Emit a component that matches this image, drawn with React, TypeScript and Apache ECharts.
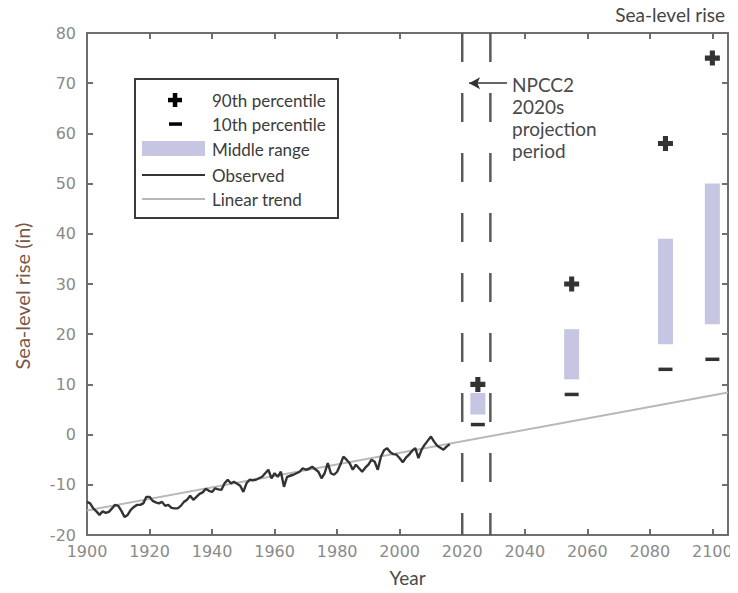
import React, { useEffect, useRef } from "react";
import * as echarts from "echarts";

// Observed annual sea level (inches), one value per year from 1900
const observedStartYear = 1900;
const observedValues = [
  -13.4, -13.7, -14.7, -15.3, -16.0, -15.3, -15.6, -15.4, -14.7, -14.0,
  -14.2, -15.2, -16.4, -16.0, -15.0, -14.4, -14.0, -14.0, -13.7, -12.4,
  -12.4, -13.2, -13.5, -13.7, -13.4, -14.2, -14.0, -14.6, -14.7, -14.7,
  -14.2, -13.4, -13.0, -12.2, -13.0, -12.4, -11.8, -11.5, -10.8, -11.2,
  -11.4, -10.7, -10.9, -11.0, -9.7, -9.0, -9.7, -9.4, -9.8, -10.2,
  -11.4, -9.7, -9.0, -9.1, -9.0, -8.7, -8.4, -7.7, -7.0, -8.7,
  -7.7, -8.4, -7.4, -10.4, -8.4, -8.2, -8.0, -7.7, -7.4, -6.7,
  -7.0, -6.8, -6.4, -6.9, -7.4, -8.7, -7.7, -5.7, -7.7, -8.0,
  -7.4, -6.0, -4.4, -5.0, -5.7, -7.0, -6.0, -6.7, -7.4, -6.6,
  -6.0, -5.0, -5.4, -7.0, -4.4, -3.1, -2.7, -3.5, -3.9, -4.0,
  -4.7, -5.5, -4.6, -4.0, -3.2, -2.7, -4.7, -3.0, -2.0, -1.2,
  -0.4, -1.4, -2.2, -2.6, -3.0, -2.4, -1.9,
];

// Linear trend end points [year, inches]
const trendYears = [1900, 2105];
const trendValues = [-15.1, 8.4];

// Projection decades (mid-points) and their percentile values
const projectionYears = [2025, 2055, 2085, 2100];
const pct90 = [10, 30, 58, 75];
const pct10 = [2, 8, 13, 15];
const middleLow = [4, 11, 18, 22];
const middleHigh = [8.3, 21, 39, 50];

// NPCC2 2020s projection period bounds
const periodYears = [2020, 2029];

// Axis ticks
const xTicks = [1900, 1920, 1940, 1960, 1980, 2000, 2020, 2040, 2060, 2080, 2100];
const yTicks = [-20, -10, 0, 10, 20, 30, 40, 50, 60, 70, 80];

const annotationLines = ["NPCC2", "2020s", "projection", "period"];

const AXIS_COLOR = "#6e6e6e";
const LABEL_COLOR = "#8a8a8a";
const TEXT_COLOR = "#3c3c3c";
const RANGE_COLOR = "#c6c6e2";
const UI_FONT = "Lato";

export default function App() {
  const ref = useRef<HTMLDivElement>(null);

  useEffect(() => {
    if (!ref.current) return;
    const chart = echarts.init(ref.current, null, { renderer: "svg" });

    const xMin = xTicks[0];
    const xMax = trendYears[1];
    const yMin = yTicks[0];
    const yMax = yTicks[yTicks.length - 1];

    const observedData = observedValues.map((v, i) => [observedStartYear + i, v]);
    const trendData = trendYears.map((y, i) => [y, trendValues[i]]);
    const rangeData = projectionYears.map((y, i) => [y, middleLow[i], middleHigh[i]]);
    const p90Data = projectionYears.map((y, i) => [y, pct90[i]]);
    const p10Data = projectionYears.map((y, i) => [y, pct10[i]]);

    const axisLine = { show: true, onZero: false, lineStyle: { color: AXIS_COLOR, width: 2 } };
    const axisTick = { show: true, inside: true, length: 6, lineStyle: { color: AXIS_COLOR, width: 2 } };
    const tickLabel = { color: LABEL_COLOR, fontSize: 16, fontFamily: "DejaVu Sans" };

    const plusPath =
      "path://M3.3,0H6.7V3.3H10V6.7H6.7V10H3.3V6.7H0V3.3H3.3Z";

    const periodSeries = periodYears.map((yr) => ({
      type: "line",
      data: [
        [yr, yMax],
        [yr, yMin],
      ],
      showSymbol: false,
      symbol: "none",
      lineStyle: { color: "#5a5a5a", width: 2.5, type: [29, 31] },
      z: 1,
      silent: true,
    }));

    // Legend entries built as graphic elements
    const lx = 135;
    const ly = 79;
    const rowY = [100, 124, 149, 175, 199];
    const textX = 212;
    const legendFont = `17px ${UI_FONT}`;
    const legendTexts = ["90th percentile", "10th percentile", "Middle range", "Observed", "Linear trend"];

    const graphic: any[] = [
      {
        type: "rect",
        shape: { x: lx, y: ly, width: 203, height: 139 },
        style: { fill: "#fff", stroke: "#3a3a3a", lineWidth: 2 },
        z: 10,
      },
      // plus
      { type: "rect", shape: { x: 168, y: rowY[0] - 2.2, width: 14, height: 4.5 }, style: { fill: "#000" }, z: 11 },
      { type: "rect", shape: { x: 172.8, y: rowY[0] - 7, width: 4.5, height: 14 }, style: { fill: "#000" }, z: 11 },
      // minus
      { type: "rect", shape: { x: 169, y: rowY[1] - 1.7, width: 13, height: 3.5 }, style: { fill: "#000" }, z: 11 },
      // middle range swatch
      { type: "rect", shape: { x: 142, y: rowY[2] - 8, width: 63, height: 15 }, style: { fill: RANGE_COLOR }, z: 11 },
      // observed line
      { type: "line", shape: { x1: 142, y1: rowY[3], x2: 205, y2: rowY[3] }, style: { stroke: "#333", lineWidth: 2 }, z: 11 },
      // trend line
      { type: "line", shape: { x1: 142, y1: rowY[4], x2: 205, y2: rowY[4] }, style: { stroke: "#b8b8b8", lineWidth: 2 }, z: 11 },
      ...legendTexts.map((t, i) => ({
        type: "text",
        x: textX,
        y: rowY[i],
        style: { text: t, font: legendFont, fill: TEXT_COLOR, textVerticalAlign: "middle" },
        z: 11,
      })),
      {
        type: "text",
        right: 13,
        top: 5,
        style: { text: "Sea-level rise", font: `19px ${UI_FONT}`, fill: "#444" },
      },
      {
        type: "text",
        x: 512,
        y: 73,
        style: {
          text: annotationLines.join("\n"),
          font: `19px ${UI_FONT}`,
          lineHeight: 22,
          fill: "#4a4a4a",
        },
        z: 11,
      },
      // y-axis title
      {
        type: "text",
        x: 22,
        y: 296,
        rotation: Math.PI / 2,
        style: {
          text: "Sea-level rise (in)",
          font: `20px ${UI_FONT}`,
          fill: "#7a5646",
          textAlign: "center",
          textVerticalAlign: "middle",
        },
      },
    ];

    chart.setOption({
      animation: false,
      backgroundColor: "#fff",
      grid: { left: 87, right: 10, top: 33, bottom: 58, show: false },
      xAxis: [
        {
          type: "value",
          min: xMin,
          max: xMax,
          interval: 20,
          position: "bottom",
          axisLine,
          axisTick,
          splitLine: { show: false },
          axisLabel: {
            ...tickLabel,
            margin: 8,
            formatter: (v: number) => (xTicks.includes(v) ? String(v) : ""),
          },
          name: "Year",
          nameLocation: "middle",
          nameGap: 33,
          nameTextStyle: { color: "#4a4a4a", fontSize: 19, fontFamily: UI_FONT },
        },
        {
          type: "value",
          min: xMin,
          max: xMax,
          interval: 20,
          position: "top",
          axisLine,
          axisTick,
          splitLine: { show: false },
          axisLabel: { show: false },
        },
      ],
      yAxis: [
        {
          type: "value",
          min: yMin,
          max: yMax,
          interval: 10,
          position: "left",
          axisLine,
          axisTick,
          splitLine: { show: false },
          axisLabel: { ...tickLabel, margin: 11 },
        },
        {
          type: "value",
          min: yMin,
          max: yMax,
          interval: 10,
          position: "right",
          axisLine,
          axisTick,
          splitLine: { show: false },
          axisLabel: { show: false },
        },
      ],
      series: [
        {
          name: "Linear trend",
          type: "line",
          data: trendData,
          showSymbol: false,
          symbol: "none",
          lineStyle: { color: "#b8b8b8", width: 2 },
          z: 2,
          silent: true,
        },
        {
          name: "Observed",
          type: "line",
          data: observedData,
          showSymbol: false,
          symbol: "none",
          lineStyle: { color: "#333", width: 2.4 },
          z: 3,
          silent: true,
        },
        ...periodSeries,
        {
          name: "Middle range",
          type: "custom",
          data: rangeData,
          encode: { x: 0, y: [1, 2] },
          renderItem: (_params: any, api: any) => {
            const x = api.value(0);
            const top = api.coord([x, api.value(2)]);
            const bottom = api.coord([x, api.value(1)]);
            const w = 15;
            return {
              type: "rect",
              shape: { x: top[0] - w / 2, y: top[1], width: w, height: bottom[1] - top[1] },
              style: { fill: RANGE_COLOR },
            };
          },
          z: 4,
          silent: true,
        },
        {
          name: "90th percentile",
          type: "scatter",
          data: p90Data,
          symbol: plusPath,
          symbolSize: 15,
          itemStyle: { color: "#000" },
          z: 5,
          silent: true,
        },
        {
          name: "10th percentile",
          type: "scatter",
          data: p10Data,
          symbol: "rect",
          symbolSize: [14, 3.5],
          itemStyle: { color: "#000" },
          z: 5,
          silent: true,
        },
        {
          type: "line",
          data: [],
          silent: true,
          markLine: {
            silent: true,
            symbol: ["none", "arrow"],
            symbolSize: [9, 11],
            label: { show: false },
            lineStyle: { color: "#333", width: 1.5, type: "solid" },
            data: [[{ coord: [2034.3, 70] }, { coord: [2022.2, 70] }]],
          },
        },
      ],
      graphic,
    });

    return () => chart.dispose();
  }, []);

  return <div ref={ref} style={{ width: 738, height: 593, margin: -8 }} />;
}
